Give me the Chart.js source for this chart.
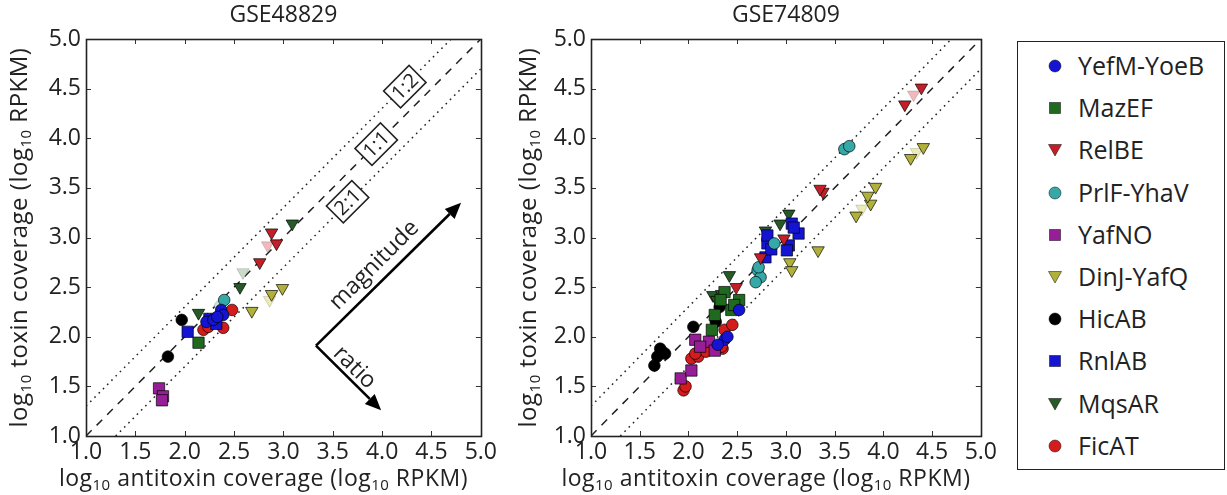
<!DOCTYPE html>
<html><head><meta charset="utf-8">
<script src="https://cdn.jsdelivr.net/npm/chart.js@4.4.1/dist/chart.umd.min.js"></script>
<style>
html,body{margin:0;padding:0;background:#fff;}
body{width:1227px;height:495px;overflow:hidden;position:relative;font-family:'Open Sans',sans-serif;}
#c1{position:absolute;left:0;top:0;}
#c2{position:absolute;left:500px;top:0;}
#legend{position:absolute;left:1017px;top:41px;width:208px;height:429px;border:1.5px solid #222;box-sizing:border-box;background:#fff;}
.li{position:absolute;left:0;height:30px;width:200px;}
.li svg{position:absolute;left:28px;top:6px;}
.li span{position:absolute;left:60px;top:-3px;font-size:25px;color:#222;line-height:34px;white-space:nowrap;}
</style>
</head><body>
<canvas id="c1" width="500" height="495"></canvas>
<canvas id="c2" width="500" height="495"></canvas>
<div id="legend"></div>
<script>
// ---------- data ----------
const seriesNames = ['YefM-YoeB','MazEF','RelBE','PrlF-YhaV','YafNO','DinJ-YafQ','HicAB','RnlAB','MqsAR','FicAT'];
const panelTitles = ['GSE48829','GSE74809'];
const tickLabels = ['1.0','1.5','2.0','2.5','3.0','3.5','4.0','4.5','5.0'];
// axis titles as [text, isSubscript] runs
const xAxisTitle = [['log',0],['10',1],[' antitoxin coverage (log',0],['10',1],[' RPKM)',0]];
const yAxisTitle = [['log',0],['10',1],[' toxin coverage (log',0],['10',1],[' RPKM)',0]];
const ratioLabels = ['1:2','1:1','2:1'];
const arrowLabels = ['magnitude','ratio'];

// reference lines (antitoxin, toxin)
const line11 = [[1,1],[5,5]];
const line12 = [[1,1.301],[4.699,5]];
const line21 = [[1.301,1],[5,4.699]];

// GSE48829 (left)
const a_YefMYoeB = [[2.22,2.15],[2.29,2.17],[2.37,2.27],[2.39,2.22],[2.33,2.20]];
const a_MazEF    = [[2.14,1.94]];
const a_RelBE    = [[2.76,2.75],[2.88,3.05],[2.93,2.94]];
const a_PrlFYhaV = [[2.40,2.37]];
const a_YafNO    = [[1.74,1.48],[1.78,1.40],[1.77,1.36]];
const a_DinJYafQ = [[2.68,2.26],[2.88,2.43],[2.99,2.49]];
const a_HicAB    = [[1.83,1.80],[1.97,2.17]];
const a_RnlAB    = [[2.03,2.05],[2.25,2.18],[2.32,2.13]];
const a_MqsAR    = [[2.14,2.24],[2.56,2.50],[3.09,3.14]];
const a_FicAT    = [[2.19,2.07],[2.39,2.09],[2.48,2.27],[2.24,2.10]];
const a_RelBE_faint = [[2.84,2.92]];
const a_DinJYafQ_faint = [[2.86,2.37]];
const a_MqsAR_faint = [[2.59,2.65]];
const a_PrlFYhaV_faint = [[2.36,2.31]];

// GSE74809 (right)
const b_YefMYoeB = [[2.37,1.97],[2.52,2.27],[2.40,2.00],[2.30,1.92]];
const b_MazEF    = [[2.37,2.45],[2.44,2.27],[2.52,2.37],[2.27,2.22],[2.24,2.07],[2.33,2.37],[2.47,2.32]];
const b_RelBE    = [[2.98,2.99],[2.49,2.50],[2.74,2.80],[3.38,3.46],[3.35,3.49],[4.22,4.34],[4.39,4.51]];
const b_PrlFYhaV = [[2.71,2.67],[2.74,2.60],[2.69,2.55],[2.72,2.70],[2.88,2.94],[3.60,3.89],[3.65,3.92]];
const b_YafNO    = [[1.92,1.58],[2.03,1.66],[2.07,1.97],[2.21,1.95],[2.27,1.86],[2.12,1.90]];
const b_DinJYafQ = [[3.33,2.87],[3.04,2.75],[3.06,2.67],[3.72,3.22],[3.87,3.34],[4.41,3.91],[4.28,3.80],[3.92,3.51],[3.84,3.42]];
const b_HicAB    = [[1.71,1.88],[1.76,1.83],[1.68,1.80],[1.65,1.71],[1.73,1.85],[2.32,2.30],[2.28,2.15],[2.05,2.10]];
const b_RnlAB    = [[2.81,2.94],[2.79,2.80],[3.06,3.14],[3.13,3.04],[3.03,2.92],[3.01,2.87],[2.81,3.02],[2.85,2.88],[3.08,3.10]];
const b_MqsAR    = [[2.79,3.07],[2.94,3.14],[3.03,3.24],[2.42,2.62],[2.25,2.42],[2.34,2.43],[2.29,2.37]];
const b_FicAT    = [[1.95,1.46],[2.03,1.78],[2.10,1.80],[2.18,1.85],[2.35,1.88],[2.37,2.07],[2.45,2.12],[2.34,1.90],[2.07,1.83],[1.97,1.50]];
const b_RelBE_faint = [[4.31,4.44]];
const b_DinJYafQ_faint = [[4.34,3.86],[3.78,3.29]];

// ---------- styles ----------
const styles = {
  'YefM-YoeB':{shape:'circle',color:'#1414d2'},
  'MazEF':{shape:'square',color:'#1f6a1f'},
  'RelBE':{shape:'tri',color:'#c21f28'},
  'PrlF-YhaV':{shape:'circle',color:'#36a8a8'},
  'YafNO':{shape:'square',color:'#961e96'},
  'DinJ-YafQ':{shape:'tri',color:'#b0b03a'},
  'HicAB':{shape:'circle',color:'#000000'},
  'RnlAB':{shape:'square',color:'#1414d2'},
  'MqsAR':{shape:'tri',color:'#275a27'},
  'FicAT':{shape:'circle',color:'#d41c1c'}
};
const faintColors = {'RelBE':'#f2b9bd','DinJ-YafQ':'#ecebb6','MqsAR':'#c9dcc9','PrlF-YhaV':'#c2e6e6'};

const leftSets = [a_YefMYoeB,a_MazEF,a_RelBE,a_PrlFYhaV,a_YafNO,a_DinJYafQ,a_HicAB,a_RnlAB,a_MqsAR,a_FicAT];
const rightSets = [b_YefMYoeB,b_MazEF,b_RelBE,b_PrlFYhaV,b_YafNO,b_DinJYafQ,b_HicAB,b_RnlAB,b_MqsAR,b_FicAT];
const leftFaint = {'RelBE':a_RelBE_faint,'DinJ-YafQ':a_DinJYafQ_faint,'MqsAR':a_MqsAR_faint,'PrlF-YhaV':a_PrlFYhaV_faint};
const rightFaint = {'RelBE':b_RelBE_faint,'DinJ-YafQ':b_DinJYafQ_faint};

const FONT = "'Open Sans', sans-serif";
const toXY = arr => arr.map(p => ({x:p[0], y:p[1]}));

function pointOpts(shape){
  if (shape==='circle') return {pointStyle:'circle', pointRadius:5.8, pointRotation:0};
  if (shape==='square') return {pointStyle:'rect', pointRadius:8, pointRotation:0};
  return {pointStyle:'triangle', pointRadius:7.2, pointRotation:180};
}

function buildDatasets(sets, faint){
  const ds = [];
  seriesNames.forEach((name,i)=>{
    const st = styles[name];
    ds.push(Object.assign({label:name, data:toXY(sets[i]), backgroundColor:st.color,
      borderColor:'rgba(0,0,0,0.85)', borderWidth:0.8, showLine:false, order:1}, pointOpts(st.shape)));
    if (faint[name]) {
      ds.push(Object.assign({label:name+' (faint)', data:toXY(faint[name]), backgroundColor:faintColors[name],
        borderColor:'rgba(0,0,0,0.25)', borderWidth:0.6, showLine:false, order:2}, pointOpts(st.shape)));
    }
  });
  const lineBase = {showLine:true, pointRadius:0, borderColor:'#222', borderWidth:1.5, fill:false, order:10};
  ds.push(Object.assign({label:'1:1', data:toXY(line11), borderDash:[8,7]}, lineBase));
  ds.push(Object.assign({label:'1:2', data:toXY(line12), borderDash:[1.6,4.4]}, lineBase));
  ds.push(Object.assign({label:'2:1', data:toXY(line21), borderDash:[1.6,4.4]}, lineBase));
  return ds;
}

function drawRuns(ctx, runs, cx, cy, rot, bigSize){
  const big = bigSize+"px "+FONT, small = "15px "+FONT;
  ctx.save();
  try { ctx.letterSpacing = '0.5px'; } catch(e) {}
  let total = 0;
  const widths = runs.map(r=>{ ctx.font = r[1]?small:big; const w = ctx.measureText(r[0]).width; total += w; return w; });
  ctx.translate(cx, cy); ctx.rotate(rot);
  ctx.fillStyle = '#222'; ctx.textAlign = 'left'; ctx.textBaseline = 'alphabetic';
  let xx = -total/2;
  runs.forEach((r,i)=>{
    ctx.font = r[1]?small:big;
    ctx.fillText(r[0], xx, r[1] ? 12 : 8);
    xx += widths[i];
  });
  ctx.restore();
}

const frame = {
  id:'frame',
  beforeDatasetsDraw(chart){
    const {ctx, chartArea:a, scales:{x,y}} = chart;
    ctx.save();
    ctx.strokeStyle = '#333'; ctx.lineWidth = 1;
    const L = 5;
    x.ticks.forEach(t=>{
      const px = Math.round(x.getPixelForValue(t.value))+0.5;
      if (t.value<=1 || t.value>=5) return;
      ctx.beginPath(); ctx.moveTo(px,a.bottom); ctx.lineTo(px,a.bottom-L);
      ctx.moveTo(px,a.top); ctx.lineTo(px,a.top+L); ctx.stroke();
    });
    y.ticks.forEach(t=>{
      const py = Math.round(y.getPixelForValue(t.value))+0.5;
      if (t.value<=1 || t.value>=5) return;
      ctx.beginPath(); ctx.moveTo(a.left,py); ctx.lineTo(a.left+L,py);
      ctx.moveTo(a.right,py); ctx.lineTo(a.right-L,py); ctx.stroke();
    });
    ctx.restore();
  },
  afterDraw(chart){
    const {ctx, chartArea:a} = chart;
    const o = chart.options;
    ctx.save();
    ctx.strokeStyle = '#222'; ctx.lineWidth = 1.6;
    ctx.strokeRect(Math.round(a.left)+0.5, Math.round(a.top)+0.5, Math.round(a.right-a.left), Math.round(a.bottom-a.top));
    ctx.fillStyle = '#222'; ctx.font = "23px "+FONT; ctx.textAlign='center'; ctx.textBaseline='middle';
    ctx.fillText(o.panelTitle, (a.left+a.right)/2, 15);
    ctx.restore();
    drawRuns(ctx, xAxisTitle, (a.left+a.right)/2 + o.xTitleShift, 478, 0, 23);
    drawRuns(ctx, yAxisTitle, o.yTitleX, (a.top+a.bottom)/2, -Math.PI/2, 24);
  }
};

const annot = {
  id:'annot',
  afterDatasetsDraw(chart){
    const {ctx, scales:{x,y}} = chart;
    const P = (vx,vy)=>[x.getPixelForValue(vx), y.getPixelForValue(vy)];
    ctx.save();
    const boxPos = [[4.23,4.52],[3.94,3.94],[3.65,3.36]];
    ratioLabels.forEach((t,i)=>{
      const [px,py] = P(boxPos[i][0], boxPos[i][1]);
      ctx.save(); ctx.translate(px,py); ctx.rotate(-Math.PI/4);
      ctx.fillStyle='#fff'; ctx.fillRect(-18,-12,36,24);
      ctx.strokeStyle='#222'; ctx.lineWidth=1.6; ctx.strokeRect(-18,-12,36,24);
      ctx.fillStyle='#222'; ctx.font = "20px "+FONT; ctx.textAlign='center'; ctx.textBaseline='middle';
      ctx.fillText(t,0,1);
      ctx.restore();
    });
    const start = P(3.33,1.91), magEnd = P(4.80,3.35), ratEnd = P(3.99,1.26);
    function arrow(s,e){
      const ang = Math.atan2(e[1]-s[1], e[0]-s[0]);
      const hl = 16, hw = 7;
      const bx = e[0]-Math.cos(ang)*hl, by = e[1]-Math.sin(ang)*hl;
      ctx.strokeStyle='#000'; ctx.lineWidth=2.6;
      ctx.beginPath(); ctx.moveTo(s[0],s[1]); ctx.lineTo(bx,by); ctx.stroke();
      ctx.fillStyle='#000'; ctx.beginPath();
      ctx.moveTo(e[0],e[1]);
      ctx.lineTo(bx+Math.sin(ang)*hw, by-Math.cos(ang)*hw);
      ctx.lineTo(bx-Math.sin(ang)*hw, by+Math.cos(ang)*hw);
      ctx.closePath(); ctx.fill();
    }
    arrow(start, magEnd); arrow(start, ratEnd);
    ctx.fillStyle='#222'; ctx.font = "23px "+FONT; ctx.textAlign='center'; ctx.textBaseline='middle';
    let [mx,my] = P(3.92,2.72);
    ctx.save(); ctx.translate(mx,my); ctx.rotate(-Math.PI/4); ctx.fillText(arrowLabels[0],0,0); ctx.restore();
    let [rx,ry] = P(3.72,1.69);
    ctx.save(); ctx.translate(rx,ry); ctx.rotate(Math.PI/4); ctx.fillText(arrowLabels[1],0,0); ctx.restore();
    ctx.restore();
  }
};

function makeChart(id, title, datasets, yWidth, yTitleX, padRight, extraPlugins){
  return new Chart(document.getElementById(id), {
    type:'scatter',
    data:{datasets},
    options:{
      panelTitle:title, xTitleShift:-20, yTitleX:yTitleX,
      responsive:false, animation:false, devicePixelRatio:1,
      layout:{padding:{left:0,right:padRight,top:39,bottom:0}},
      plugins:{ legend:{display:false}, tooltip:{enabled:false}, title:{display:false} },
      scales:{
        x:{type:'linear', min:1, max:5,
          afterFit(s){ s.height = 59; },
          grid:{display:false, drawTicks:false}, border:{display:false},
          ticks:{stepSize:0.5, padding:3, color:'#222', font:{family:FONT,size:23}, maxRotation:0, autoSkip:false,
            callback:(v,i)=>tickLabels[i]},
          title:{display:false}
        },
        y:{type:'linear', min:1, max:5,
          afterFit(s){ s.width = yWidth; },
          grid:{display:false, drawTicks:false}, border:{display:false},
          ticks:{stepSize:0.5, padding:5, color:'#222', font:{family:FONT,size:23}, autoSkip:false,
            callback:(v,i)=>tickLabels[i]},
          title:{display:false}
        }
      }
    },
    plugins:[frame].concat(extraPlugins)
  });
}

makeChart('c1', panelTitles[0], buildDatasets(leftSets, leftFaint), 86, 19, 18, [annot]);
makeChart('c2', panelTitles[1], buildDatasets(rightSets, rightFaint), 91, 28, 12, []);

// ---------- legend ----------
const lg = document.getElementById('legend');
function markerSVG(st){
  const c = st.color;
  let inner;
  if (st.shape==='circle') inner = `<circle cx="9" cy="9" r="6" fill="${c}" stroke="rgba(0,0,0,0.6)" stroke-width="0.8"/>`;
  else if (st.shape==='square') inner = `<rect x="3.5" y="3.5" width="11" height="11" fill="${c}" stroke="rgba(0,0,0,0.6)" stroke-width="0.8"/>`;
  else inner = `<polygon points="2.5,3.5 15.5,3.5 9,15" fill="${c}" stroke="rgba(0,0,0,0.6)" stroke-width="0.8"/>`;
  return `<svg width="18" height="18" viewBox="0 0 18 18">${inner}</svg>`;
}
seriesNames.forEach((name,i)=>{
  const d = document.createElement('div');
  d.className='li';
  d.style.top = (65 + 42.2*i - 41 - 15) + 'px';
  d.innerHTML = markerSVG(styles[name]) + `<span>${name}</span>`;
  lg.appendChild(d);
});
</script>
</body></html>
